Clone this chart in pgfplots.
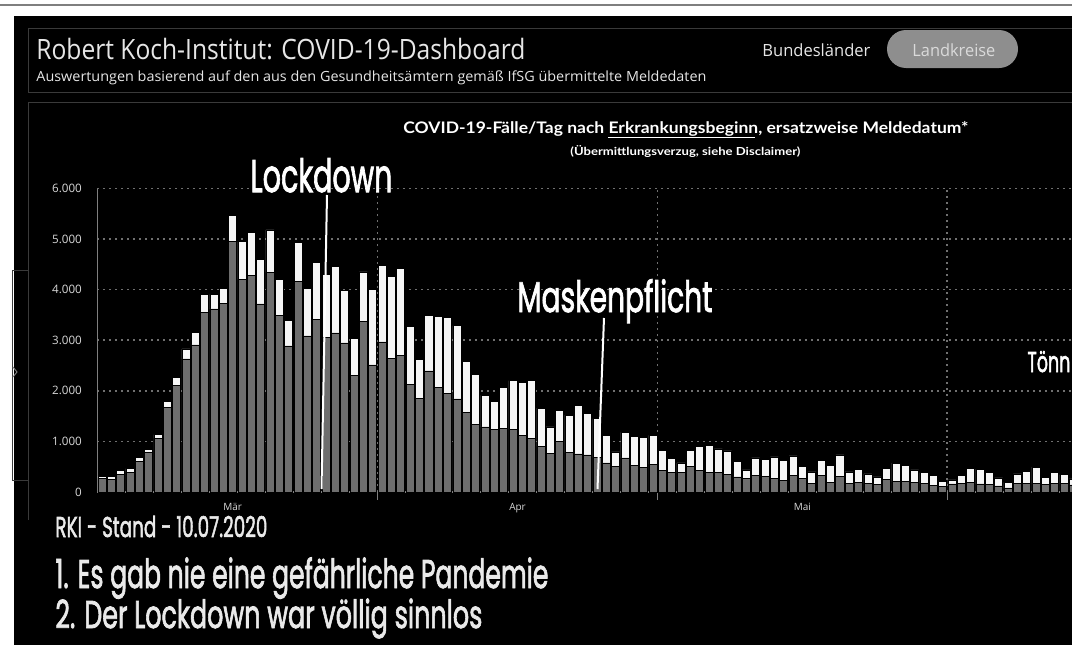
\documentclass[border=0pt]{standalone}
\usepackage{graphicx}
\usepackage{pgfplots}
\pgfplotsset{compat=1.18}
\usepackage{pgfplotstable}
\usepackage{fontspec}
\setmainfont{Open Sans}
\newfontfamily\pop{Poppins}[FakeBold=2.2]
\newfontfamily\lato{Lato}
\newfontfamily\osans{Open Sans}
\newcommand{\fit}[3]{\resizebox{#1}{#2}{\raisebox{0pt}[\fontcharht\font`H][0pt]{#3}}}
\definecolor{barg}{HTML}{6E6E6E}
\definecolor{barw}{HTML}{F6F6F6}
\definecolor{tickc}{HTML}{D8D8D8}
\definecolor{axc}{HTML}{7F7F7F}
\definecolor{gridc}{HTML}{707070}
\definecolor{boxc}{HTML}{3A3A3A}
\definecolor{pill}{HTML}{8E8E8E}
\definecolor{pilltext}{HTML}{DADADA}
\definecolor{titlec}{HTML}{E6E6E6}
\definecolor{txtc}{HTML}{EAEAEA}

\pgfplotstableread{
k g w
1 270 46
2 250 53
3 355 79
4 395 65
5 605 85
6 776 66
7 1066 66
8 1671 125
9 2105 158
10 2632 197
11 2908 250
12 3553 355
13 3618 290
14 3724 302
15 4947 527
16 4197 750
17 4276 856
18 3720 880
19 4340 840
20 3490 718
21 2890 505
22 4160 770
23 3085 938
24 3415 1130
25 3053 1250
26 3145 1316
27 2947 1040
28 2310 720
29 3370 980
30 2513 1487
31 2968 1512
32 2645 1618
33 2698 1717
34 2130 1140
35 1855 770
36 2395 1092
37 2072 1402
38 1947 1500
39 1842 1447
40 1572 1007
41 1335 994
42 1289 619
43 1245 544
44 1256 810
45 1244 960
46 1118 1047
47 1053 1151
48 900 758
49 763 526
50 1008 610
51 780 738
52 754 951
53 735 826
54 682 768
55 577 544
56 499 294
57 676 504
58 531 570
59 479 596
60 551 570
61 426 400
62 387 282
63 387 190
64 511 315
65 432 466
66 387 531
67 380 472
68 350 462
69 298 312
70 265 172
71 325 350
72 312 338
73 272 423
74 226 396
75 325 390
76 265 238
77 165 232
78 325 304
79 192 338
80 305 430
81 172 225
82 185 258
83 172 185
84 152 146
85 245 219
86 203 367
87 212 318
88 185 252
89 172 213
90 132 199
91 106 99
92 159 79
93 172 159
94 185 279
95 159 291
96 146 239
97 119 159
98 80 112
99 172 185
100 172 232
101 165 325
102 152 139
103 165 226
104 165 180
105 139 119
}\data

\begin{document}
\begin{tikzpicture}[x=0.5pt,y=0.5pt]
\clip (0,0) rectangle (1072,645);
\fill[white] (0,0) rectangle (1072,645);
\draw[draw=axc, line width=1pt] (0,640) -- (1072,640);
\fill[black] (14,0) rectangle (1072,629);
% header box
\draw[boxc, line width=0.5pt] (28,553) rectangle (1090,617);
% chart panel
\draw[boxc, line width=0.5pt] (28,125) -- (28,543) -- (1090,543);
\draw[boxc, line width=0.5pt] (12,165) rectangle (28,375);
\draw[axc, line width=0.5pt] (13,278) -- (17,273) -- (13,268);

\node[anchor=base west, inner sep=0, text=titlec] at (36,586) {\osans\fit{244.5pt}{10pt}{Robert Koch-Institut: COVID-19-Dashboard}};
\node[anchor=base west, inner sep=0, text=titlec] at (36,564) {\osans\fit{335pt}{5pt}{Auswertungen basierend auf den aus den Gesundheitsämtern gemäß IfSG übermittelte Meldedaten}};
\node[anchor=base west, inner sep=0, text=titlec] at (762,589) {\osans\fit{54pt}{6pt}{Bundesländer}};
\fill[pill, rounded corners=9.5pt] (887,577) rectangle (1018,615);
\node[anchor=base west, inner sep=0, text=pilltext] at (912,589) {\osans\fit{41.5pt}{6pt}{Landkreise}};

\node[anchor=base west, inner sep=0, text=white] at (403,512) {\lato\bfseries\fit{282.5pt}{5.75pt}{COVID-19-Fälle/Tag nach Erkrankungsbeginn, ersatzweise Meldedatum*}};
\draw[white, line width=0.5pt] (608,508) -- (755,508);
\node[anchor=base west, inner sep=0, text=white] at (570,490) {\lato\bfseries\fit{115pt}{4pt}{(Übermittlungsverzug, siehe Disclaimer)}};

\begin{axis}[at={(48.6pt,76.5pt)}, anchor=south west, scale only axis,
  width=504.4pt, height=151.75pt,
  xmin=0.5, xmax=108.5, ymin=0, ymax=6000,
  ybar stacked, bar width=0.86,
  axis x line*=bottom, axis y line*=left,
  x axis line style={draw=axc, line width=1pt},
  y axis line style={draw=axc, line width=0.5pt},
  xtick={30.5,60.5,91.5}, xticklabels={},
  xmajorgrids, tick align=outside, major tick length=4pt,
  xtick style={draw=axc, line width=0.5pt},
  extra x ticks={15,45.5,76}, extra x tick labels={Mär,Apr,Mai},
  extra x tick style={grid=none, major tick length=0pt,
     xticklabel style={font=\osans\fontsize{5}{6}\selectfont, text=tickc, inner sep=0pt, anchor=north, yshift=-5.5pt}},
  ytick={0,1000,2000,3000,4000,5000,6000},
  yticklabels={0,1.000,2.000,3.000,4.000,5.000,6.000},
  ymajorgrids, ytick style={draw=none},
  yticklabel style={font=\osans\fontsize{5.8}{6}\selectfont, text=tickc, inner sep=0pt, anchor=east, xshift=-3.5pt},
  grid style={draw=gridc, line width=0.8pt, dash pattern=on 1pt off 2pt},
]
\addplot[fill=barg, draw=black, line width=0.3pt] table[x=k,y=g]{\data};
\addplot[fill=barw, draw=black, line width=0.3pt] table[x=k,y=w]{\data};
\end{axis}

\draw[white, line width=1pt] (327,450) -- (321.5,156);
\draw[white, line width=1pt] (604,327) -- (597.5,156);

\node[anchor=base west, inner sep=0, text=white] at (250,453) {\pop\fit{71pt}{16pt}{Lockdown}};
\node[anchor=base west, inner sep=0, text=white] at (517,333) {\pop\fit{97.5pt}{15pt}{Maskenpflicht}};
\node[anchor=base west, inner sep=0, text=white] at (1027,273) {\pop\fit{21.5pt}{10pt}{Tönn}};
\node[anchor=base west, inner sep=0, text=txtc] at (55,108) {\pop\fit{106pt}{10pt}{RKI - Stand - 10.07.2020}};
\node[anchor=base west, inner sep=0, text=txtc] at (55,57) {\pop\fit{246.5pt}{14pt}{1. Es gab nie eine gefährliche Pandemie}};
\node[anchor=base west, inner sep=0, text=txtc] at (55,17) {\pop\fit{213.5pt}{13.5pt}{2. Der Lockdown war völlig sinnlos}};
\end{tikzpicture}
\end{document}
